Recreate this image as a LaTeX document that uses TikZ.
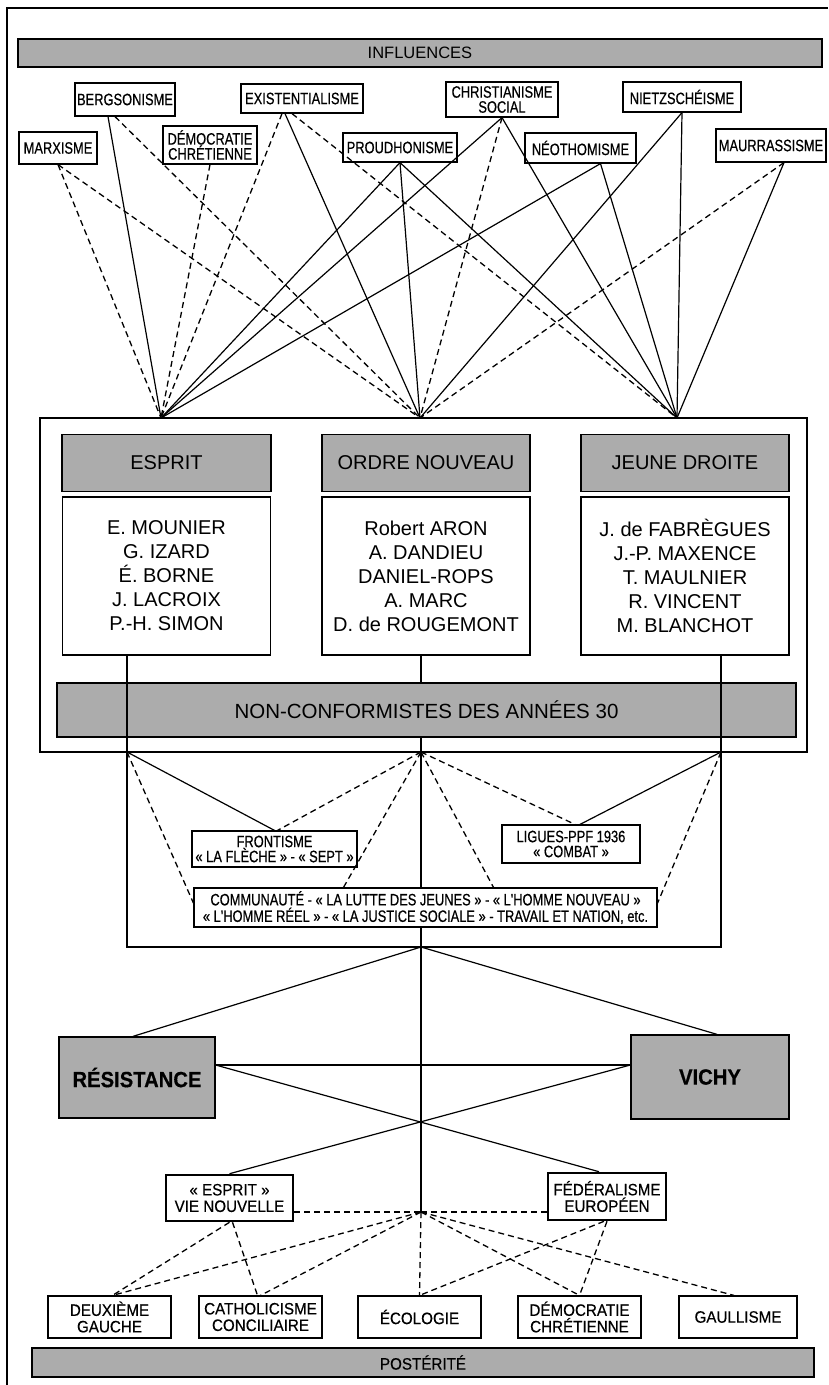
\documentclass[tikz,border=0pt]{standalone}
\usepackage{fontspec}
\setmainfont{Liberation Sans}
\newfontfamily\condfont{Liberation Sans}[FakeStretch=0.78,FakeBold=0.5]
\newfontfamily\narrowfont{Liberation Sans}[FakeStretch=0.92,FakeBold=0.4]
\begin{document}
\begin{tikzpicture}[x=1pt,y=-1pt]
\tikzstyle{box}=[draw,fill=white,line width=1.2pt,inner sep=0pt,align=center];
\tikzstyle{infl}=[box,font=\condfont\fontsize{16.5}{15}\selectfont];
\tikzstyle{heir}=[box,font=\narrowfont\fontsize{16.5}{16.5}\selectfont];
\tikzstyle{band}=[box,fill=gray!65,line width=1.3pt];
\tikzstyle{names}=[box,line width=1.3pt,font=\fontsize{20}{24}\selectfont,minimum width=208pt,minimum height=158pt];
\tikzstyle{link}=[line width=1.2pt];
\tikzstyle{dlink}=[line width=1.3pt,dash pattern=on 6pt off 4pt];
\useasboundingbox (0,0) rectangle (828,1385);
\draw[line width=1.3pt] (7,1385) -- (7,8) -- (828,8);

\node[band,minimum width=804pt,minimum height=28pt,font=\fontsize{16.5}{16.5}\selectfont] (infl) at (420,53) {INFLUENCES};
\node[infl,minimum width=100pt,minimum height=33pt] (berg) at (125,99.5) {BERGSONISME};
\node[infl,minimum width=122pt,minimum height=29pt] (exist) at (302,98.5) {EXISTENTIALISME};
\node[infl,minimum width=112pt,minimum height=35pt] (christ) at (502,99.5) {CHRISTIANISME\\SOCIAL};
\node[infl,minimum width=118pt,minimum height=30pt] (nietz) at (682,97) {NIETZSCHÉISME};
\node[infl,minimum width=78pt,minimum height=32pt] (marx) at (58,148) {MARXISME};
\node[infl,minimum width=94pt,minimum height=38pt] (democ) at (210,145) {DÉMOCRATIE\\CHRÉTIENNE};
\node[infl,minimum width=114pt,minimum height=29pt] (proud) at (400,147.5) {PROUDHONISME};
\node[infl,minimum width=111pt,minimum height=30pt] (neo) at (580.5,148) {NÉOTHOMISME};
\node[infl,minimum width=110pt,minimum height=33pt] (maur) at (771,145.5) {MAURRASSISME};

\node[draw,line width=2.6pt,minimum width=767pt,minimum height=334pt] (nc) at (423.5,585) {};
\coordinate (E) at (161,418);
\coordinate (O) at (420,418);
\coordinate (J) at (677,418);

\node[band,minimum width=209pt,minimum height=57pt,font=\fontsize{20}{24}\selectfont] (esprit) at (166.5,463) {ESPRIT};
\node[band,minimum width=208pt,minimum height=57pt,font=\fontsize{20}{24}\selectfont] (ordre) at (426,463) {ORDRE NOUVEAU};
\node[band,minimum width=208pt,minimum height=57pt,font=\fontsize{20}{24}\selectfont] (jeune) at (685,463) {JEUNE DROITE};
\node[names] (enames) at (166.5,576) {E. MOUNIER\\G. IZARD\\É. BORNE\\J. LACROIX\\P.-H. SIMON};
\node[names] (onames) at (426,576) {Robert ARON\\A. DANDIEU\\DANIEL-ROPS\\A. MARC\\D. de ROUGEMONT};
\node[names] (jnames) at (685,576) {J. de FABRÈGUES\\J.-P. MAXENCE\\T. MAULNIER\\R. VINCENT\\M. BLANCHOT};
\node[band,minimum width=739pt,minimum height=54pt,font=\fontsize{20.5}{24}\selectfont] (ncband) at (426.5,710) {NON-CONFORMISTES DES ANNÉES 30};

% influences
\draw [dlink] (marx.south) edge (E);
\draw [dlink] (marx.south) edge (O);
\draw [link] ([xshift=-17pt]berg.south) edge (E);
\draw [dlink] ([xshift=-10pt]berg.south) edge (O);
\draw [dlink] (democ.south) edge (E);
\draw [dlink] ([xshift=-20pt]exist.south) edge (E);
\draw [link] ([xshift=-17pt]exist.south) edge (O);
\draw [dlink] ([xshift=-10pt]exist.south) edge (J);
\draw [link] (proud.south) edge (E);
\draw [link] (proud.south) edge (O);
\draw [link] (proud.south) edge (J);
\draw [link] (christ.south) edge (E);
\draw [dlink] (christ.south) edge (O);
\draw [link] (christ.south) edge (J);
\draw [link] ([xshift=20pt]neo.south) edge (E);
\draw [link] ([xshift=20pt]neo.south) edge (J);
\draw [link] (nietz.south) edge (O);
\draw [link] (nietz.south) edge (J);
\draw [link] ([xshift=13pt]maur.south) edge (J);
\draw [dlink] ([xshift=13pt]maur.south) edge (O);

% trunk
\coordinate (ma) at (421,655);
\coordinate (mb) at (421,683);
\coordinate (mc) at (421,737);
\coordinate (hub) at (421,1212);
\draw [link] (ma) -- (mb);
\draw [link] (mc) -- (hub);

% movements
\node[infl,minimum width=165pt,minimum height=36pt] (front) at (274.5,849) {FRONTISME\\« LA FLÈCHE » - « SEPT »};
\node[infl,minimum width=138pt,minimum height=38pt] (ligues) at (571,844) {LIGUES-PPF 1936\\« COMBAT »};
\node[infl,minimum width=463pt,minimum height=39pt,font=\condfont\fontsize{16.5}{16.5}\selectfont] (commun) at (425.5,907.5) {COMMUNAUTÉ - « LA LUTTE DES JEUNES » - « L'HOMME NOUVEAU »\\« L'HOMME RÉEL » - « LA JUSTICE SOCIALE » - TRAVAIL ET NATION, etc.};
\coordinate (bl) at (127,752);
\coordinate (bm) at (421,752);
\coordinate (br) at (721,752);
\draw [link] (bl) edge (front.north);
\draw [dlink] (bm) edge ([xshift=3pt]front.north);
\draw [dlink] (bl) edge ([yshift=4.5pt]commun.west);
\draw [dlink] (bm) edge ([xshift=-82pt]commun.north);
\draw [dlink] (bm) edge ([xshift=68pt]commun.north);
\draw [dlink] (bm) edge ([xshift=4pt]ligues.north);
\draw [link] (br) edge ([xshift=9pt]ligues.north);
\draw [dlink] (br) edge ([yshift=4.5pt]commun.east);
\draw [link] (127,655) -- (127,947) -- (721,947) -- (721,655);

% war
\node[band,minimum width=156pt,minimum height=81pt,font=\narrowfont\bfseries\fontsize{22}{22}\selectfont] (resist) at (137,1077.5) {RÉSISTANCE};
\node[band,minimum width=158pt,minimum height=84pt,font=\narrowfont\bfseries\fontsize{22}{22}\selectfont] (vichy) at (710,1077) {VICHY};
\node[heir,line width=2.6pt,minimum width=127pt,minimum height=46pt] (evn) at (229.5,1198) {« ESPRIT »\\VIE NOUVELLE};
\node[heir,line width=2.6pt,minimum width=118pt,minimum height=47pt] (fed) at (607,1196.5) {FÉDÉRALISME\\EUROPÉEN};
\coordinate (bc) at (421,947);
\coordinate (rE) at ([yshift=12.5pt]resist.east);
\coordinate (vW) at ([yshift=12pt]vichy.west);
\draw [link] (bc) edge ([xshift=-4pt]resist.north);
\draw [link] (bc) edge ([xshift=7pt]vichy.north);
\draw [link] (rE) edge (vW);
\draw [link] (rE) edge ([xshift=-8pt]fed.north);
\draw [link] (vW) edge (evn.north);

% posterity
\node[heir,minimum width=123pt,minimum height=42pt] (deux) at (109.5,1317) {DEUXIÈME\\GAUCHE};
\node[heir,minimum width=123pt,minimum height=42pt] (cath) at (260.5,1317) {CATHOLICISME\\CONCILIAIRE};
\node[heir,minimum width=123pt,minimum height=42pt] (eco) at (419.5,1317) {ÉCOLOGIE};
\node[heir,minimum width=123pt,minimum height=42pt] (demo) at (579.5,1317) {DÉMOCRATIE\\CHRÉTIENNE};
\node[heir,minimum width=118pt,minimum height=42pt] (gaul) at (738,1317) {GAULLISME};
\node[band,minimum width=782pt,minimum height=29pt,font=\narrowfont\fontsize{16.5}{16.5}\selectfont] (poster) at (423,1362.5) {POSTÉRITÉ};
\draw [dlink] ([yshift=-14pt]evn.east) edge (hub);
\draw [dlink] (hub) edge ([yshift=-15.5pt]fed.west);
\draw [dlink] (evn.south) edge ([xshift=3pt]deux.north);
\draw [dlink] ([xshift=3pt]evn.south) edge ([xshift=-3pt]cath.north);
\draw [dlink] (hub) edge ([xshift=3pt]deux.north);
\draw [dlink] (hub) edge (cath.north);
\draw [dlink] (hub) edge (eco.north);
\draw [dlink] (hub) edge (demo.north);
\draw [dlink] (hub) edge ([xshift=-4pt]gaul.north);
\draw [dlink] ([xshift=-3pt]fed.south) edge (eco.north);
\draw [dlink] (fed.south) edge (demo.north);
\end{tikzpicture}
\end{document}
